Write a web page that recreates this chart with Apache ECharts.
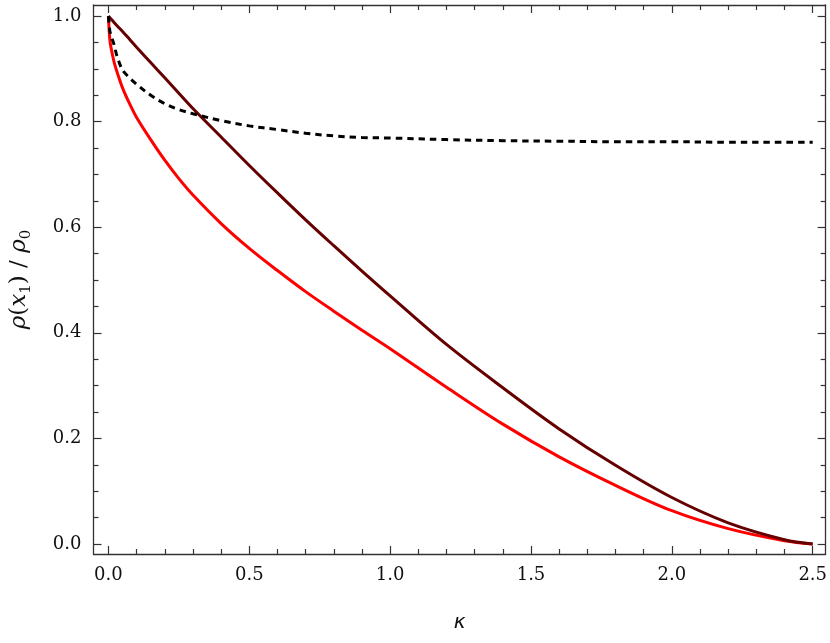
<!DOCTYPE html>
<html>
<head>
<meta charset="utf-8">
<script src="https://cdn.jsdelivr.net/npm/echarts@6/dist/echarts.min.js"></script>
<style>
  html, body { margin: 0; padding: 0; background: #fff; }
  #chart { width: 830px; height: 643px; }
</style>
</head>
<body>
<div id="chart"></div>
<script>
// kappa grid shared by all three curves
const kappa = [0, 0.005, 0.01, 0.02, 0.03, 0.05, 0.075, 0.1, 0.15, 0.2, 0.25, 0.3, 0.4, 0.5, 0.6, 0.7, 0.8, 0.9, 1.0, 1.2, 1.4, 1.6, 1.8, 2.0, 2.2, 2.4, 2.5]
// red curve
const rhoRed = [1.0, 0.955, 0.938, 0.913, 0.895, 0.864, 0.834, 0.808, 0.766, 0.727, 0.692, 0.661, 0.607, 0.560, 0.518, 0.478, 0.441, 0.405, 0.370, 0.297, 0.227, 0.165, 0.111, 0.063, 0.029, 0.006, 0.0]
// dark red curve
const rhoDark = [1.0, 0.997, 0.994, 0.988, 0.982, 0.971, 0.956, 0.941, 0.912, 0.883, 0.854, 0.825, 0.771, 0.717, 0.665, 0.614, 0.565, 0.517, 0.470, 0.378, 0.296, 0.218, 0.149, 0.088, 0.040, 0.008, 0.0]
// dotted black curve
const rhoDotted = [1.0, 0.972, 0.962, 0.946, 0.925, 0.898, 0.883, 0.871, 0.850, 0.834, 0.823, 0.815, 0.802, 0.792, 0.785, 0.778, 0.773, 0.770, 0.769, 0.766, 0.764, 0.763, 0.762, 0.762, 0.761, 0.761, 0.761]

const xMajor = [0, 0.5, 1.0, 1.5, 2.0, 2.5]
const xMinor = [0.1, 0.2, 0.3, 0.4, 0.6, 0.7, 0.8, 0.9, 1.1, 1.2, 1.3, 1.4, 1.6, 1.7, 1.8, 1.9, 2.1, 2.2, 2.3, 2.4]
const yMajor = [0, 0.2, 0.4, 0.6, 0.8, 1.0]
const yMinor = [0.05, 0.1, 0.15, 0.25, 0.3, 0.35, 0.45, 0.5, 0.55, 0.65, 0.7, 0.75, 0.85, 0.9, 0.95]

const pairs = (ys) => kappa.map((k, i) => [k, ys[i]])

const axisColor = '#333'
const labelFont = { fontFamily: 'DejaVu Serif', fontSize: 18, color: '#111' }

// one axis layer: either the line + major ticks (+ labels) or just the minor ticks
const makeAxis = (dir, position, ticks, len, withLine, withLabels, extra) => {
  const range = dir === 'x' ? { min: -0.053, max: 2.546 } : { min: -0.019, max: 1.021 }
  return Object.assign({
    type: 'value',
    position: position,
    ...range,
    splitLine: { show: false },
    axisLine: { show: withLine, onZero: false, lineStyle: { color: axisColor, width: 1.3 } },
    axisTick: { show: true, inside: true, length: len, customValues: ticks, lineStyle: { color: axisColor, width: 1.2 } },
    axisLabel: withLabels
      ? Object.assign({ show: true, customValues: ticks, formatter: (v) => v.toFixed(1), margin: 12 }, labelFont)
      : { show: false }
  }, extra || {})
}

const chart = echarts.init(document.getElementById('chart'))
const option = {
  animation: false,
  backgroundColor: '#fff',
  grid: { left: 93, top: 5, right: 4, bottom: 89, containLabel: false },
  xAxis: [
    makeAxis('x', 'bottom', xMajor, 8, true, true, {
      name: 'κ',
      nameLocation: 'middle',
      nameGap: 59,
      nameTextStyle: { fontFamily: 'DejaVu Sans', fontStyle: 'italic', fontSize: 20, color: '#111' }
    }),
    makeAxis('x', 'bottom', xMinor, 5, false, false),
    makeAxis('x', 'top', xMajor, 8, true, false),
    makeAxis('x', 'top', xMinor, 5, false, false)
  ],
  yAxis: [
    makeAxis('y', 'left', yMajor, 8, true, true, {
      name: '{i|ρ}{r|(}{i|x}{s|1}{r|) / }{i|ρ}{s|0}',
      nameLocation: 'middle',
      nameGap: 60,
      nameRotate: 90,
      nameTextStyle: {
        rich: {
          i: { fontFamily: 'DejaVu Serif', fontStyle: 'italic', fontSize: 23, lineHeight: 28, color: '#111' },
          r: { fontFamily: 'DejaVu Serif', fontSize: 23, lineHeight: 28, color: '#111' },
          s: { fontFamily: 'DejaVu Serif', fontSize: 15, lineHeight: 15, verticalAlign: 'bottom', color: '#111' }
        }
      }
    }),
    makeAxis('y', 'left', yMinor, 5, false, false),
    makeAxis('y', 'right', yMajor, 8, true, false),
    makeAxis('y', 'right', yMinor, 5, false, false)
  ],
  series: [
    {
      name: 'red',
      type: 'line',
      data: pairs(rhoRed),
      showSymbol: false,
      smooth: 0.35,
      lineStyle: { color: '#ff0000', width: 3 }
    },
    {
      name: 'dark',
      type: 'line',
      data: pairs(rhoDark),
      showSymbol: false,
      smooth: 0.35,
      lineStyle: { color: '#660000', width: 3 }
    },
    {
      name: 'dotted',
      type: 'line',
      data: pairs(rhoDotted),
      showSymbol: false,
      smooth: 0.35,
      lineStyle: { color: '#000', width: 3, type: [6.5, 5], cap: 'butt' }
    }
  ]
}
chart.setOption(option)
</script>
</body>
</html>
